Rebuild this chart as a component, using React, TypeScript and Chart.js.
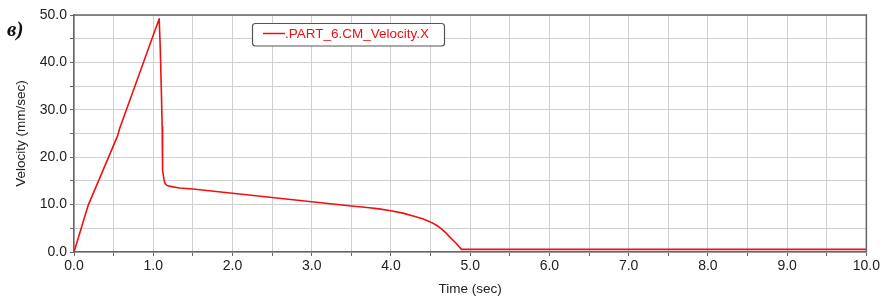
import React, { useEffect, useRef } from "react";
import { Chart, registerables } from "chart.js";

Chart.register(...registerables);

const timeValues = [0, 0.18, 0.55, 0.575, 1.075, 1.088, 1.1, 1.113, 1.116, 1.12, 1.135, 1.15, 1.175, 1.2, 1.33, 1.5, 2.0, 2.5, 3.0, 3.5, 3.7, 3.85, 4.0, 4.15, 4.28, 4.4, 4.49, 4.57, 4.63, 4.69, 4.74, 4.82, 4.89, 10.0];
const velocityValues = [0, 9.9, 24.5, 26, 49.2, 43.3, 35.6, 26.4, 21.5, 17.3, 15.3, 14.4, 14.05, 13.9, 13.5, 13.3, 12.4, 11.5, 10.6, 9.7, 9.4, 9.1, 8.7, 8.2, 7.6, 7.0, 6.4, 5.7, 5.0, 4.1, 3.2, 1.9, 0.55, 0.55];
const seriesLabel = ".PART_6.CM_Velocity.X";
const xTitle = "Time (sec)";
const yTitle = "Velocity (mm/sec)";
const panelLabel = "в)";

const FONT = "'Liberation Sans', Arial, sans-serif";
const RED = "#f01010";

const framePlugin = {
  id: "frameAndLegend",
  afterDraw(chart: any) {
    const { ctx, chartArea } = chart;
    ctx.save();
    ctx.strokeStyle = "#666";
    ctx.lineWidth = 1.5;
    ctx.beginPath();
    ctx.moveTo(chartArea.left, chartArea.top);
    ctx.lineTo(chartArea.right, chartArea.top);
    ctx.lineTo(chartArea.right, chartArea.bottom);
    ctx.stroke();

    // legend box
    const bx = 252.5, by = 23.5, bw = 192, bh = 22.5;
    ctx.beginPath();
    (ctx as any).roundRect(bx, by, bw, bh, 3);
    ctx.fillStyle = "#fff";
    ctx.fill();
    ctx.strokeStyle = "#555";
    ctx.lineWidth = 1.2;
    ctx.stroke();
    ctx.strokeStyle = RED;
    ctx.lineWidth = 1.5;
    ctx.beginPath();
    ctx.moveTo(263, 33.5);
    ctx.lineTo(285, 33.5);
    ctx.stroke();
    ctx.fillStyle = RED;
    ctx.font = `13.5px ${FONT}`;
    ctx.textBaseline = "middle";
    ctx.textAlign = "left";
    ctx.fillText(seriesLabel, 285, 34.5);
    ctx.restore();
  },
};

export default function App() {
  const ref = useRef<HTMLCanvasElement>(null);
  useEffect(() => {
    if (!ref.current) return;
    const data = timeValues.map((t, i) => ({ x: t, y: velocityValues[i] }));
    const chart = new Chart(ref.current, {
      type: "line",
      data: {
        datasets: [
          {
            label: seriesLabel,
            data,
            borderColor: RED,
            borderWidth: 1.6,
            pointRadius: 0,
            tension: 0,
            borderJoinStyle: "round",
            fill: false,
          },
        ],
      },
      options: {
        animation: false,
        responsive: false,
        maintainAspectRatio: false,
        layout: { padding: { left: 0, right: 15, top: 15, bottom: 0 } },
        plugins: { legend: { display: false }, tooltip: { enabled: false } },
        scales: {
          x: {
            type: "linear",
            min: 0,
            max: 10,
            afterFit: (s: any) => { s.height = 46; },
            ticks: {
              stepSize: 0.5,
              autoSkip: false,
              maxRotation: 0,
              padding: 2,
              color: "#222",
              font: { family: FONT, size: 14 },
              callback: (v: any) => (Math.abs(v - Math.round(v)) < 1e-6 ? Number(v).toFixed(1) : ""),
            },
            grid: { color: "#d0d0d0", lineWidth: 1, tickLength: 4, tickColor: "#666" },
            border: { color: "#666", width: 1.5 },
            title: {
              display: true,
              text: xTitle,
              color: "#222",
              font: { family: FONT, size: 13.5 },
              padding: { top: 0, bottom: 1 },
            },
          },
          y: {
            type: "linear",
            min: 0,
            max: 50,
            afterFit: (s: any) => { s.width = 74; },
            ticks: {
              stepSize: 5,
              autoSkip: false,
              padding: 3,
              color: "#222",
              font: { family: FONT, size: 14 },
              callback: (v: any) => (Math.round(v) % 10 === 0 ? Number(v).toFixed(1) : ""),
            },
            grid: { color: "#d0d0d0", lineWidth: 1, tickLength: 4, tickColor: "#666" },
            border: { color: "#666", width: 1.5 },
            title: {
              display: true,
              text: yTitle,
              color: "#222",
              font: { family: FONT, size: 13.5 },
              padding: { top: 13, bottom: 0 },
            },
          },
        },
      },
      plugins: [framePlugin],
    });
    return () => chart.destroy();
  }, []);

  return (
    <div style={{ position: "absolute", left: 0, top: 0, width: 882, height: 298, background: "#fff" }}>
      <canvas ref={ref} width={882} height={298} style={{ display: "block", width: 882, height: 298 }} />
      <span
        style={{
          position: "absolute",
          left: 7,
          top: 17,
          fontFamily: "'Liberation Serif', 'DejaVu Serif', serif",
          fontStyle: "italic",
          fontWeight: "bold",
          fontSize: 21,
          color: "#111",
          lineHeight: "24px",
        }}
      >
        {panelLabel}
      </span>
    </div>
  );
}
